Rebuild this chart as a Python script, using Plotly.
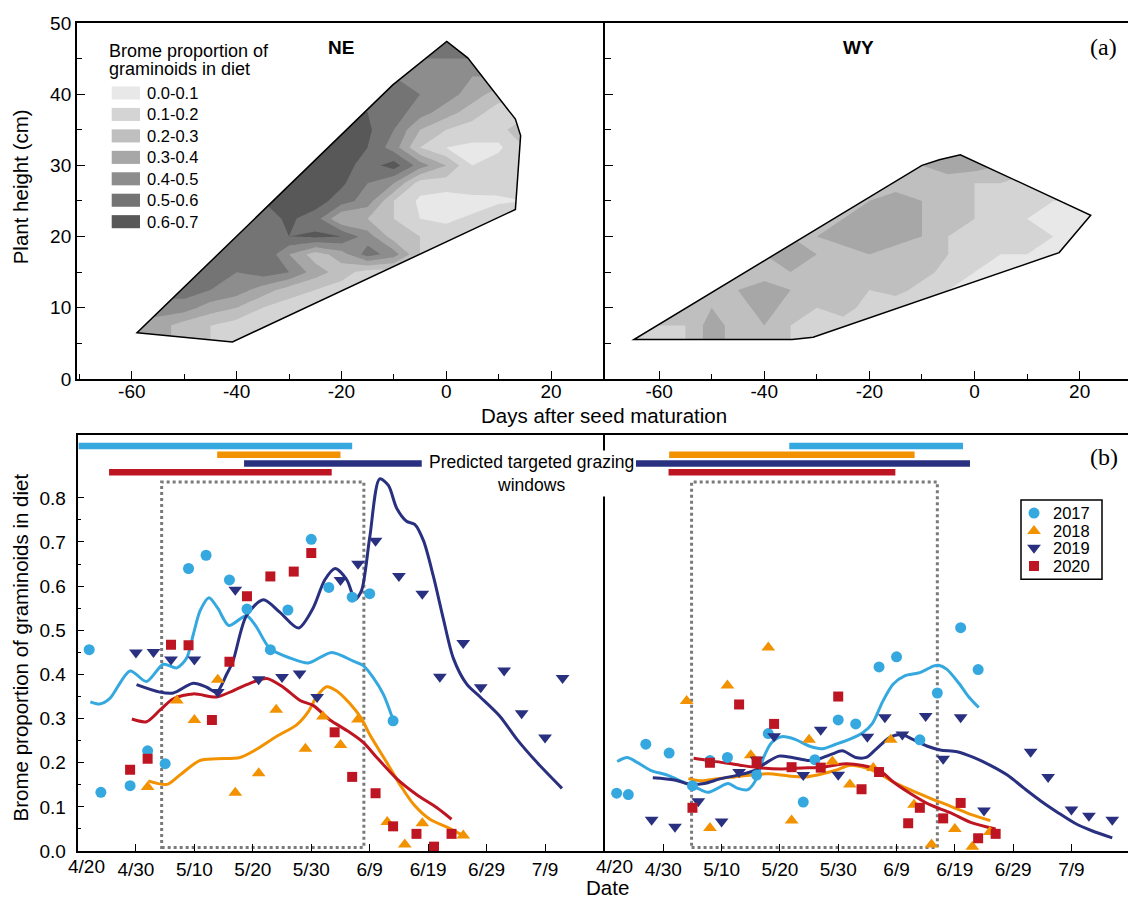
import plotly.graph_objects as go

W, H = 1128, 907
SANS = "Liberation Sans, Arial, Helvetica, sans-serif"
SERIF = "Liberation Serif, Times New Roman, serif"


def fx(p):
    return p / W


def fy(p):
    return 1 - p / H


# ------------------------------------------------------------------
# (a) Brome proportion of graminoids in diet vs days after seed maturation and plant height
# ------------------------------------------------------------------
level_labels = ["0.0-0.1", "0.1-0.2", "0.2-0.3", "0.3-0.4", "0.4-0.5", "0.5-0.6", "0.6-0.7"]
level_colors = ["#e8e8e8", "#d4d4d4", "#bfbfbf", "#a7a7a7", "#8d8d8d", "#747474", "#585858"]

ne_day = [-60, -55, -50, -45, -40, -35, -30, -25, -20, -15, -10, -5, 0, 5, 10, 15]
ne_height = [5, 7.5, 10, 12.5, 15, 17.5, 20, 22.5, 25, 27.5, 30, 32.5, 35, 37.5, 40, 42.5, 45, 47.5]
ne_prop = [
    [0.35, 0.35, 0.25, 0.20, 0.15, 0.15, 0.20, 0.20, 0.20, 0.20, 0.20, 0.20, 0.20, 0.20, 0.20, 0.20],
    [0.35, 0.35, 0.25, 0.20, 0.15, 0.15, 0.20, 0.20, 0.20, 0.20, 0.20, 0.20, 0.20, 0.20, 0.20, 0.20],
    [0.45, 0.45, 0.45, 0.35, 0.30, 0.20, 0.15, 0.15, 0.15, 0.15, 0.15, 0.15, 0.15, 0.15, 0.15, 0.15],
    [0.55, 0.55, 0.55, 0.50, 0.45, 0.35, 0.25, 0.20, 0.15, 0.15, 0.15, 0.15, 0.15, 0.15, 0.15, 0.15],
    [0.55, 0.55, 0.55, 0.55, 0.50, 0.55, 0.50, 0.35, 0.25, 0.15, 0.15, 0.15, 0.15, 0.15, 0.15, 0.15],
    [0.55, 0.55, 0.55, 0.55, 0.55, 0.60, 0.40, 0.25, 0.35, 0.55, 0.45, 0.20, 0.15, 0.15, 0.15, 0.15],
    [0.55, 0.55, 0.55, 0.55, 0.55, 0.55, 0.60, 0.62, 0.60, 0.45, 0.25, 0.20, 0.15, 0.15, 0.15, 0.15],
    [0.55, 0.55, 0.55, 0.55, 0.55, 0.55, 0.62, 0.55, 0.30, 0.30, 0.20, 0.10, 0.08, 0.12, 0.20, 0.20],
    [0.60, 0.60, 0.60, 0.60, 0.60, 0.60, 0.65, 0.65, 0.55, 0.45, 0.20, 0.08, 0.05, 0.05, 0.08, 0.10],
    [0.65, 0.65, 0.65, 0.65, 0.65, 0.65, 0.65, 0.65, 0.62, 0.50, 0.40, 0.15, 0.15, 0.20, 0.15, 0.20],
    [0.65, 0.65, 0.65, 0.65, 0.65, 0.65, 0.65, 0.65, 0.65, 0.55, 0.65, 0.45, 0.30, 0.10, 0.15, 0.20],
    [0.65, 0.65, 0.65, 0.65, 0.65, 0.65, 0.65, 0.65, 0.65, 0.60, 0.45, 0.20, 0.10, 0.08, 0.08, 0.20],
    [0.65, 0.65, 0.65, 0.65, 0.65, 0.65, 0.65, 0.65, 0.65, 0.62, 0.50, 0.30, 0.20, 0.15, 0.15, 0.30],
    [0.60, 0.60, 0.60, 0.60, 0.60, 0.60, 0.60, 0.60, 0.60, 0.60, 0.55, 0.45, 0.35, 0.25, 0.15, 0.15],
    [0.55, 0.55, 0.55, 0.55, 0.55, 0.55, 0.55, 0.55, 0.55, 0.55, 0.55, 0.50, 0.45, 0.35, 0.25, 0.25],
    [0.50, 0.50, 0.50, 0.50, 0.50, 0.50, 0.50, 0.50, 0.50, 0.50, 0.50, 0.50, 0.50, 0.40, 0.40, 0.40],
    [0.50, 0.50, 0.50, 0.50, 0.50, 0.50, 0.50, 0.50, 0.50, 0.50, 0.50, 0.50, 0.50, 0.50, 0.50, 0.50],
    [0.55, 0.55, 0.55, 0.55, 0.55, 0.55, 0.55, 0.55, 0.55, 0.55, 0.55, 0.55, 0.55, 0.55, 0.55, 0.55],
]
ne_hull_day = [-59.0, -40.8, 13.2, 14.2, 13.2, 4.1, 0.1, -10.2]
ne_hull_height = [6.5, 5.2, 23.8, 34.2, 36.5, 45.1, 47.4, 41.3]

wy_day = [-65, -60, -55, -50, -45, -40, -35, -30, -25, -20, -15, -10, -5, 0, 5, 10, 15, 20, 25]
wy_height = [5, 7.5, 10, 12.5, 15, 17.5, 20, 22.5, 25, 27.5, 30, 32.5]
wy_prop = [
    [0.20, 0.20, 0.20, 0.35, 0.25, 0.30, 0.20, 0.15, 0.15, 0.15, 0.15, 0.15, 0.15, 0.15, 0.15, 0.15, 0.15, 0.15, 0.15],
    [0.20, 0.20, 0.20, 0.35, 0.25, 0.30, 0.20, 0.15, 0.15, 0.15, 0.15, 0.15, 0.15, 0.15, 0.15, 0.15, 0.15, 0.15, 0.15],
    [0.25, 0.25, 0.25, 0.30, 0.25, 0.35, 0.25, 0.20, 0.25, 0.15, 0.10, 0.10, 0.10, 0.10, 0.10, 0.10, 0.10, 0.10, 0.10],
    [0.25, 0.25, 0.25, 0.25, 0.30, 0.35, 0.30, 0.25, 0.30, 0.20, 0.25, 0.15, 0.10, 0.10, 0.10, 0.10, 0.10, 0.10, 0.10],
    [0.25, 0.25, 0.25, 0.25, 0.25, 0.25, 0.30, 0.25, 0.20, 0.25, 0.30, 0.25, 0.15, 0.10, 0.10, 0.10, 0.10, 0.10, 0.10],
    [0.30, 0.30, 0.30, 0.30, 0.30, 0.30, 0.35, 0.30, 0.25, 0.30, 0.25, 0.25, 0.20, 0.15, 0.10, 0.10, 0.10, 0.10, 0.10],
    [0.30, 0.30, 0.30, 0.30, 0.30, 0.30, 0.30, 0.30, 0.35, 0.40, 0.35, 0.30, 0.20, 0.15, 0.20, 0.20, 0.10, 0.05, 0.05],
    [0.30, 0.30, 0.30, 0.30, 0.30, 0.30, 0.30, 0.30, 0.30, 0.40, 0.40, 0.30, 0.25, 0.20, 0.15, 0.10, 0.10, 0.05, 0.05],
    [0.30, 0.30, 0.30, 0.30, 0.30, 0.30, 0.30, 0.30, 0.30, 0.30, 0.35, 0.30, 0.25, 0.20, 0.15, 0.15, 0.10, 0.10, 0.10],
    [0.25, 0.25, 0.25, 0.25, 0.25, 0.25, 0.25, 0.25, 0.25, 0.25, 0.25, 0.25, 0.25, 0.20, 0.20, 0.15, 0.15, 0.15, 0.15],
    [0.30, 0.30, 0.30, 0.30, 0.30, 0.30, 0.30, 0.30, 0.30, 0.30, 0.30, 0.30, 0.35, 0.35, 0.30, 0.25, 0.25, 0.25, 0.25],
    [0.35, 0.35, 0.35, 0.35, 0.35, 0.35, 0.35, 0.35, 0.35, 0.35, 0.35, 0.35, 0.35, 0.35, 0.35, 0.35, 0.35, 0.35, 0.35],
]
wy_hull_day = [-64.8, -34.7, -30.7, 16.1, 22.1, -2.7, -6.7, -10.0]
wy_hull_height = [5.54, 5.54, 5.86, 17.75, 23.0, 31.5, 30.8, 30.0]

days_ticks = [-60, -40, -20, 0, 20]

# ------------------------------------------------------------------
# (b) Brome proportion of graminoids in diet by date (days after 4/20)
# ------------------------------------------------------------------
date_tickvals = [10, 20, 30, 40, 50, 60, 70, 80]
date_ticktext = ["4/30", "5/10", "5/20", "5/30", "6/9", "6/19", "6/29", "7/9"]
first_date_label = "4/20"

# NE
ne_2017_day = [2, 4, 9, 12, 15, 19, 22, 26, 29, 33, 36, 40, 43, 47, 50, 54]
ne_2017_prop = [0.456, 0.133, 0.148, 0.227, 0.198, 0.640, 0.670, 0.614, 0.548, 0.456, 0.546, 0.706, 0.597, 0.575, 0.583, 0.295]
ne_2017_fit_day = [2.2, 3.8, 5.5, 9.0, 11.8, 14.7, 17.0, 18.7, 19.8, 21.0, 22.5, 24.0, 25.9, 28.9, 30.5, 32.9, 36.4, 39.5, 43.5, 47.2, 48.9, 50.6, 52.3, 53.8]
ne_2017_fit_prop = [0.338, 0.333, 0.345, 0.408, 0.384, 0.423, 0.415, 0.438, 0.49, 0.545, 0.574, 0.55, 0.511, 0.533, 0.51, 0.459, 0.437, 0.426, 0.450, 0.430, 0.420, 0.393, 0.356, 0.305]

ne_2018_day = [12, 17, 20, 24, 27, 31, 34, 39, 42, 45, 48, 53, 56, 59, 66]
ne_2018_prop = [0.145, 0.341, 0.297, 0.388, 0.132, 0.176, 0.320, 0.232, 0.305, 0.240, 0.298, 0.066, 0.015, 0.063, 0.035]
ne_2018_fit_day = [12.1, 15.3, 17.5, 20.9, 23.8, 27.8, 30.7, 34.1, 37.5, 39.5, 40.9, 42.6, 44.3, 46.6, 48.6, 50.0, 52.9, 55.2, 57.5, 60.3, 63.2, 66.0]
ne_2018_fit_prop = [0.159, 0.151, 0.172, 0.205, 0.209, 0.212, 0.231, 0.260, 0.286, 0.316, 0.349, 0.372, 0.363, 0.334, 0.300, 0.264, 0.201, 0.150, 0.106, 0.072, 0.054, 0.035]

ne_2019_day = [10, 13, 16, 20, 24, 27, 31, 35, 38, 41, 45, 48, 51, 55, 59, 62, 66, 69, 73, 76, 80, 83]
ne_2019_prop = [0.450, 0.451, 0.434, 0.434, 0.360, 0.592, 0.389, 0.394, 0.402, 0.349, 0.614, 0.651, 0.703, 0.623, 0.583, 0.395, 0.471, 0.371, 0.409, 0.312, 0.257, 0.392]
ne_2019_fit_day = [10.1, 14.1, 16.4, 19.8, 22.1, 23.8, 25.5, 26.6, 28.9, 31.8, 34.6, 37.8, 40.3, 42.3, 44.1, 46.1, 47.5, 48.6, 50.0, 51.7, 53.2, 54.6, 56.3, 57.7, 59.2, 60.9, 62.6, 64.3, 66.6, 68.9, 72.3, 75.2, 78.6, 82.9]
ne_2019_fit_prop = [0.377, 0.360, 0.358, 0.380, 0.371, 0.360, 0.400, 0.430, 0.533, 0.569, 0.541, 0.505, 0.550, 0.614, 0.640, 0.614, 0.570, 0.590, 0.710, 0.843, 0.828, 0.777, 0.747, 0.740, 0.703, 0.622, 0.526, 0.437, 0.378, 0.349, 0.305, 0.253, 0.201, 0.142]

ne_2020_day = [9, 12, 16, 19, 23, 26, 29, 33, 37, 40, 44, 47, 51, 54, 58, 61, 64]
ne_2020_prop = [0.184, 0.209, 0.467, 0.466, 0.297, 0.429, 0.577, 0.622, 0.633, 0.675, 0.269, 0.168, 0.131, 0.056, 0.039, 0.010, 0.039]
ne_2020_fit_day = [9.3, 11.8, 14.1, 16.4, 19.8, 23.8, 26.6, 29.5, 32.4, 35.2, 38.1, 40.3, 43.2, 46.1, 48.9, 51.2, 54.6, 58.0, 61.5, 64.0]
ne_2020_fit_prop = [0.299, 0.293, 0.319, 0.345, 0.356, 0.349, 0.363, 0.380, 0.391, 0.371, 0.341, 0.330, 0.297, 0.273, 0.246, 0.212, 0.164, 0.128, 0.098, 0.072]

# WY
wy_2017_day = [2, 4, 7, 11, 15, 18, 21, 26, 28, 34, 36, 40, 43, 47, 50, 54, 57, 61, 64]
wy_2017_prop = [0.131, 0.128, 0.242, 0.222, 0.148, 0.205, 0.212, 0.172, 0.266, 0.111, 0.207, 0.297, 0.288, 0.417, 0.440, 0.252, 0.358, 0.506, 0.411]
wy_2017_fit_day = [2.1, 3.8, 5.5, 7.8, 10.7, 13.3, 15.9, 17.6, 19.3, 21.1, 22.8, 24.5, 26.0, 27.2, 28.6, 30.3, 32.6, 35.0, 37.3, 39.6, 41.9, 44.2, 45.9, 47.6, 49.4, 51.4, 54.0, 56.3, 57.2, 58.6, 60.7, 62.4, 64.1]
wy_2017_fit_prop = [0.203, 0.212, 0.201, 0.183, 0.172, 0.157, 0.142, 0.133, 0.142, 0.153, 0.142, 0.139, 0.164, 0.212, 0.246, 0.259, 0.253, 0.238, 0.232, 0.242, 0.253, 0.268, 0.290, 0.338, 0.378, 0.397, 0.404, 0.419, 0.421, 0.412, 0.380, 0.349, 0.325]

wy_2018_day = [14, 18, 21, 25, 28, 32, 35, 39, 42, 46, 49, 53, 56, 60, 63, 66]
wy_2018_prop = [0.340, 0.052, 0.375, 0.217, 0.461, 0.069, 0.252, 0.203, 0.151, 0.188, 0.252, 0.105, 0.015, 0.050, 0.010, 0.043]
wy_2018_fit_day = [14.3, 16.5, 19.3, 22.2, 25.1, 28.0, 31.5, 34.4, 37.3, 39.6, 41.9, 44.8, 47.1, 49.4, 52.3, 55.7, 59.2, 62.7, 66.1]
wy_2018_fit_prop = [0.164, 0.159, 0.164, 0.168, 0.172, 0.175, 0.170, 0.168, 0.175, 0.183, 0.194, 0.188, 0.175, 0.157, 0.139, 0.120, 0.102, 0.083, 0.069]

wy_2019_day = [8, 12, 16, 20, 23, 26, 29, 34, 37, 40, 45, 48, 51, 55, 58, 61, 65, 73, 76, 80, 83, 87]
wy_2019_prop = [0.071, 0.055, 0.113, 0.067, 0.179, 0.207, 0.260, 0.172, 0.275, 0.173, 0.259, 0.303, 0.264, 0.306, 0.209, 0.303, 0.092, 0.225, 0.168, 0.094, 0.080, 0.071]
wy_2019_fit_day = [8.2, 11.9, 14.7, 17.0, 19.9, 22.8, 25.7, 27.4, 29.8, 32.1, 35.0, 36.7, 39.0, 40.7, 43.0, 44.8, 46.5, 48.8, 50.8, 52.8, 55.2, 57.5, 60.4, 63.2, 66.1, 69.0, 71.9, 74.8, 77.7, 80.6, 83.5, 87.0]
wy_2019_fit_prop = [0.166, 0.161, 0.151, 0.153, 0.164, 0.172, 0.183, 0.198, 0.215, 0.212, 0.205, 0.209, 0.220, 0.227, 0.212, 0.212, 0.231, 0.257, 0.264, 0.253, 0.238, 0.229, 0.225, 0.212, 0.194, 0.172, 0.142, 0.113, 0.087, 0.063, 0.046, 0.030]

wy_2020_day = [15, 18, 23, 26, 29, 32, 37, 40, 44, 47, 52, 54, 58, 61, 64, 67]
wy_2020_prop = [0.098, 0.200, 0.332, 0.203, 0.288, 0.190, 0.189, 0.350, 0.140, 0.179, 0.063, 0.098, 0.074, 0.109, 0.029, 0.039]
wy_2020_fit_day = [15.2, 17.6, 20.5, 23.4, 26.9, 30.3, 33.8, 37.3, 39.6, 41.3, 44.2, 47.1, 49.4, 52.3, 55.7, 59.2, 62.7, 67.0]
wy_2020_fit_prop = [0.210, 0.205, 0.200, 0.194, 0.188, 0.186, 0.188, 0.190, 0.195, 0.198, 0.194, 0.183, 0.157, 0.131, 0.105, 0.087, 0.065, 0.050]

# predicted targeted grazing windows (start day, end day), years 2017..2020
ne_window_start = [0.2, 23.9, 28.5, 5.4]
ne_window_end = [47.0, 45.0, 58.9, 43.5]
wy_window_start = [31.6, 11.0, 5.3, 10.9]
wy_window_end = [61.4, 53.1, 62.6, 49.8]

# dotted boxes (overall windows)
ne_box_day = [14.4, 49.0]
wy_box_day = [14.85, 57.0]
box_prop = [0.008, 0.836]

years = ["2017", "2018", "2019", "2020"]

# ------------------------------------------------------------------
# styles
# ------------------------------------------------------------------
year_color = {"2017": "#35a8df", "2018": "#f39200", "2019": "#28307f", "2020": "#be1522"}
year_symbol = {"2017": "circle", "2018": "triangle-up", "2019": "triangle-down", "2020": "square"}
year_size = {"2017": 11, "2018": 12, "2019": 12, "2020": 10}
bar_level = {"2017": 0.9175, "2018": 0.8976, "2019": 0.8777, "2020": 0.8577}

ne_points = {"2017": (ne_2017_day, ne_2017_prop), "2018": (ne_2018_day, ne_2018_prop),
             "2019": (ne_2019_day, ne_2019_prop), "2020": (ne_2020_day, ne_2020_prop)}
ne_fits = {"2017": (ne_2017_fit_day, ne_2017_fit_prop), "2018": (ne_2018_fit_day, ne_2018_fit_prop),
           "2019": (ne_2019_fit_day, ne_2019_fit_prop), "2020": (ne_2020_fit_day, ne_2020_fit_prop)}
wy_points = {"2017": (wy_2017_day, wy_2017_prop), "2018": (wy_2018_day, wy_2018_prop),
             "2019": (wy_2019_day, wy_2019_prop), "2020": (wy_2020_day, wy_2020_prop)}
wy_fits = {"2017": (wy_2017_fit_day, wy_2017_fit_prop), "2018": (wy_2018_fit_day, wy_2018_fit_prop),
           "2019": (wy_2019_fit_day, wy_2019_fit_prop), "2020": (wy_2020_fit_day, wy_2020_fit_prop)}

fig = go.Figure()

# ---- contour panels ----
n_lev = len(level_colors)
colorscale = [[k / (n_lev - 1), c] for k, c in enumerate(level_colors)]

for days, heights, prop, xa, ya in [(ne_day, ne_height, ne_prop, "x", "y"),
                                    (wy_day, wy_height, wy_prop, "x2", "y2")]:
    fig.add_trace(go.Contour(
        x=days, y=heights, z=prop, xaxis=xa, yaxis=ya,
        autocontour=False,
        contours=dict(start=0.1, end=0.6, size=0.1, coloring="fill", showlines=False),
        line=dict(width=0, smoothing=0),
        colorscale=colorscale, showscale=False, hoverinfo="skip", showlegend=False,
    ))


def poly_path(xs, ys):
    return "M" + " L".join(f"{a},{b}" for a, b in zip(xs, ys)) + " Z"


shapes = []
for hx, hy, days, heights, xa, ya in [(ne_hull_day, ne_hull_height, ne_day, ne_height, "x", "y"),
                                      (wy_hull_day, wy_hull_height, wy_day, wy_height, "x2", "y2")]:
    x0, x1 = min(days) - 0.6, max(days) + 0.6
    y0, y1 = min(heights) - 0.6, max(heights) + 0.6
    rect = poly_path([x0, x1, x1, x0], [y0, y0, y1, y1])
    shapes.append(dict(type="path", path=rect + " " + poly_path(hx, hy), xref=xa, yref=ya,
                       fillcolor="white", fillrule="evenodd", line=dict(width=0), layer="above"))
    shapes.append(dict(type="path", path=poly_path(hx, hy), xref=xa, yref=ya,
                       fillcolor="rgba(0,0,0,0)", line=dict(color="black", width=1.5), layer="above"))

# ---- date panels ----
for pts, fits, starts, ends, xa, ya in [
        (ne_points, ne_fits, ne_window_start, ne_window_end, "x3", "y3"),
        (wy_points, wy_fits, wy_window_start, wy_window_end, "x4", "y4")]:
    for i, yr in enumerate(years):
        fig.add_trace(go.Scatter(
            x=[starts[i], ends[i]], y=[bar_level[yr], bar_level[yr]], mode="lines",
            line=dict(color=year_color[yr], width=6.5), xaxis=xa, yaxis=ya,
            showlegend=False, hoverinfo="skip"))
    for yr in years:
        fd, fp = fits[yr]
        fig.add_trace(go.Scatter(
            x=fd, y=fp, mode="lines", line=dict(color=year_color[yr], width=3, shape="spline", smoothing=0.8),
            xaxis=xa, yaxis=ya, showlegend=False, hoverinfo="skip"))
    for yr in years:
        d, p = pts[yr]
        fig.add_trace(go.Scatter(
            x=d, y=p, mode="markers", name=yr, showlegend=False,
            marker=dict(color=year_color[yr], symbol=year_symbol[yr], size=year_size[yr], line=dict(width=0)),
            xaxis=xa, yaxis=ya))

for box, xa, ya in [(ne_box_day, "x3", "y3"), (wy_box_day, "x4", "y4")]:
    shapes.append(dict(type="rect", x0=box[0], x1=box[1], y0=box_prop[0], y1=box_prop[1], xref=xa, yref=ya,
                       line=dict(color="#7a7a7a", width=3, dash="dot"), fillcolor="rgba(0,0,0,0)", layer="below"))

# ---- year legend (box at right of panel b) ----
LEG_L, LEG_R, LEG_T, LEG_B = 1021, 1102, 501.7, 582.7
leg_rows = [515, 533.3, 550.5, 569.3]
shapes.append(dict(type="rect", xref="paper", yref="paper", x0=fx(LEG_L), x1=fx(LEG_R),
                   y0=fy(LEG_B), y1=fy(LEG_T), line=dict(color="black", width=1.5), fillcolor="white",
                   layer="below"))
for i, yr in enumerate(years):
    fig.add_trace(go.Scatter(
        x=[(1034 - LEG_L) / (LEG_R - LEG_L)], y=[(LEG_B - leg_rows[i]) / (LEG_B - LEG_T)],
        mode="markers", name=yr, showlegend=False, hoverinfo="skip",
        marker=dict(color=year_color[yr], symbol=year_symbol[yr], size=year_size[yr], line=dict(width=0)),
        xaxis="x5", yaxis="y5"))

# contour legend swatches
for i, c in enumerate(level_colors):
    cy = 85 + 21.95 * i
    shapes.append(dict(type="rect", xref="paper", yref="paper", x0=fx(111.7), x1=fx(140),
                       y0=fy(cy + 6.7), y1=fy(cy - 6.7), fillcolor=c, line=dict(width=0)))

# ---- axes ----
tickfont = dict(family=SANS, size=19, color="black")
base = dict(showline=True, linecolor="black", linewidth=1.5, ticks="inside", tickcolor="black",
            tickwidth=1.2, ticklen=8, showgrid=False, zeroline=False, tickfont=tickfont, fixedrange=True)

top_y = [fy(377.7), fy(13.3)]
bot_y = [fy(861), fy(435)]

layout_axes = dict(
    xaxis=dict(base, domain=[fx(76.8), fx(605)], range=[-70.5, 30.3], anchor="y", mirror=True,
               ticklabelstandoff=-6,
               tickmode="array", tickvals=days_ticks, ticktext=[str(v) for v in days_ticks],
               minor=dict(ticks="inside", ticklen=5, tickcolor="black", tickmode="array",
                          tickvals=[-70, -50, -30, -10, 10])),
    yaxis=dict(base, domain=top_y, range=[0, 50], anchor="x", tickmode="array",
               tickvals=[0, 10, 20, 30, 40, 50],
               minor=dict(ticks="inside", ticklen=5, tickcolor="black", tickmode="array",
                          tickvals=[5, 15, 25, 35, 45])),
    xaxis2=dict(base, domain=[fx(605), 1.0], range=[-70.3, 29.2], anchor="y2", mirror=True,
                ticklabelstandoff=-6,
                tickmode="array", tickvals=days_ticks, ticktext=[str(v) for v in days_ticks],
                minor=dict(ticks="inside", ticklen=5, tickcolor="black", tickmode="array",
                           tickvals=[-50, -30, -10, 10])),
    yaxis2=dict(base, domain=top_y, range=[0, 50], anchor="x2", showticklabels=False, tickmode="array",
                tickvals=[10, 20, 30, 40],
                minor=dict(ticks="inside", ticklen=6, tickcolor="black", tickmode="array",
                           tickvals=[5, 15, 25, 35, 45])),
    xaxis3=dict(base, domain=[fx(77.5), fx(605)], range=[0, 90.26], anchor="y3", mirror=True, ticklen=7,
                tickmode="array", tickvals=date_tickvals, ticktext=date_ticktext),
    yaxis3=dict(base, domain=bot_y, range=[0, 0.9425], anchor="x3", ticklen=7, tickmode="array",
                ticklabelstandoff=6,
                tickvals=[0, 0.1, 0.2, 0.3, 0.4, 0.5, 0.6, 0.7, 0.8],
                ticktext=["0.0", "0.1", "0.2", "0.3", "0.4", "0.5", "0.6", "0.7", "0.8"],
                minor=dict(ticks="inside", ticklen=4, tickcolor="black", tickmode="array",
                           tickvals=[0.05, 0.15, 0.25, 0.35, 0.45, 0.55, 0.65, 0.75])),
    xaxis4=dict(base, domain=[fx(605), 1.0], range=[0, 89.7], anchor="y4", mirror=True, ticklen=7,
                tickmode="array", tickvals=date_tickvals, ticktext=date_ticktext),
    yaxis4=dict(base, domain=bot_y, range=[0, 0.9425], anchor="x4", showticklabels=False, ticks=""),
    xaxis5=dict(domain=[fx(LEG_L), fx(LEG_R)], range=[0, 1], anchor="y5", visible=False, fixedrange=True),
    yaxis5=dict(domain=[fy(LEG_B), fy(LEG_T)], range=[0, 1], anchor="x5", visible=False, fixedrange=True),
)


def ann(text, x, y, size=18, family=SANS, **kw):
    d = dict(text=text, x=x, y=y, xref="paper", yref="paper", showarrow=False,
             font=dict(family=family, size=size, color="black"), xanchor="center", yanchor="middle")
    d.update(kw)
    return d


annotations = [
    ann("<b>NE</b>", fx(340.7), fy(38), 19),
    ann("<b>WY</b>", fx(859), fy(38), 19),
    ann("(a)", fx(1103.5), fy(37.5), 24, SERIF),
    ann("(b)", fx(1104), fy(458), 24, SERIF),
    ann("Days after seed maturation", fx(604), fy(415), 20.5),
    ann("Plant height (cm)", fx(20.5), fy(181), 20.5, textangle=-90),
    ann("Brome proportion of graminoids in diet", fx(20), fy(652.5), 20.5, textangle=-90),
    ann("Date", fx(607), fy(898), 20.5),
    ann("Predicted targeted grazing<br>windows", fx(531), fy(474), 17.5, bgcolor="white", borderpad=1),
    ann("Brome proportion of", fx(107), fy(41.7), 18, xanchor="left"),
    ann("graminoids in diet", fx(107), fy(60), 18, xanchor="left"),
]
for xa in ["x3", "x4"]:
    annotations.append(dict(text=first_date_label, x=0, y=fy(876.5), xref=xa, yref="paper", xshift=9,
                            showarrow=False, font=dict(family=SANS, size=19, color="black"),
                            xanchor="center", yanchor="middle"))
for i, lab in enumerate(level_labels):
    annotations.append(ann(lab, fx(145), fy(85 + 21.95 * i), 16.5, xanchor="left"))
for i, yr in enumerate(years):
    annotations.append(ann(yr, fx(1051), fy(leg_rows[i]), 16.5, xanchor="left"))

fig.update_layout(
    width=W, height=H, margin=dict(l=0, r=0, t=0, b=0),
    paper_bgcolor="white", plot_bgcolor="rgba(0,0,0,0)",
    font=dict(family=SANS, color="black"),
    showlegend=False,
    shapes=shapes, annotations=annotations,
    **layout_axes,
)

fig.write_html("out.html")
